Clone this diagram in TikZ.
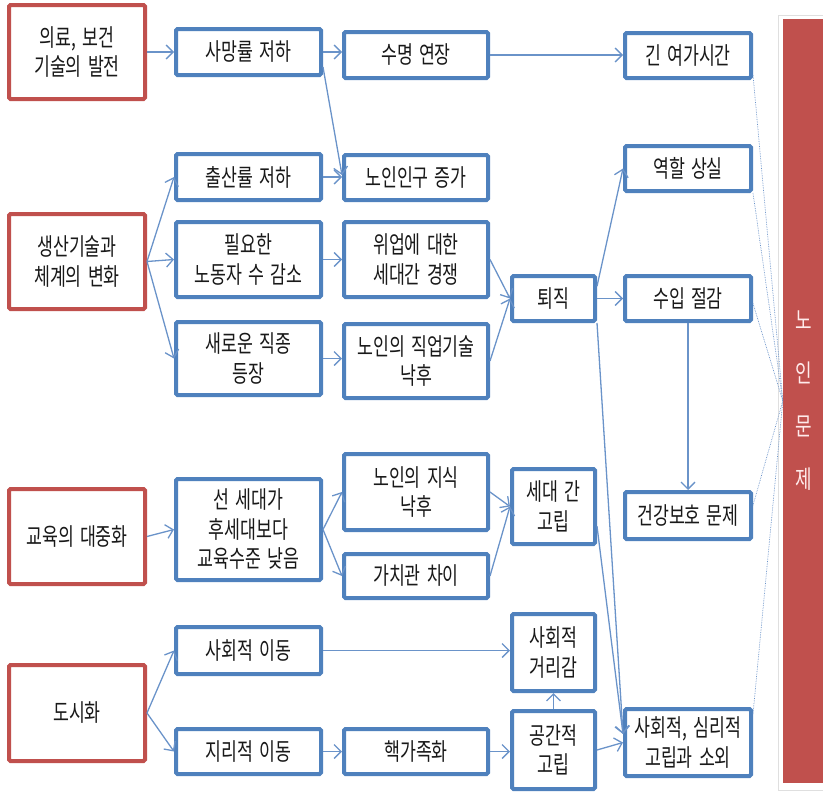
\documentclass[tikz,border=0pt]{standalone}
\usepackage{fontspec}
\newfontfamily\kr[FakeStretch=0.72, WordSpace=1.6]{Noto Sans CJK KR}
\usetikzlibrary{arrows.meta,calc}
\definecolor{boxred}{HTML}{C0504D}
\definecolor{boxblue}{HTML}{4F81BD}
\definecolor{linkblue}{HTML}{6A93C9}
\tikzset{
  base/.style={rectangle, line width=4pt, fill=white, align=center, inner sep=0pt,
    rounded corners=1.5pt, font={\kr\fontsize{24}{29.5}\selectfont}, text=black!90},
  redbox/.style={base, draw=boxred},
  bluebox/.style={base, draw=boxblue},
  link/.style={draw=linkblue, line width=1.3pt, -{Straight Barb[length=7pt,width=14pt]}},
  dotlink/.style={draw=linkblue, line width=0.7pt, densely dotted},
}
\begin{document}
\begin{tikzpicture}[x=1pt,y=-1pt]
\useasboundingbox (0,0) rectangle (823,795);
% red bar
\draw[gray!25, line width=1pt, fill=white] (778,15) rectangle (835,790);
\node[rectangle, fill=boxred, minimum width=42pt, minimum height=764pt, inner sep=0pt,
  text=white!92!red, align=center, font={\kr\fontsize{25}{53}\selectfont}] (bar) at (804,401) {노\\인\\문\\제};
% red boxes
\node[redbox, minimum width=136pt, minimum height=94pt] (med) at (77,52) {의료, 보건\\기술의 발전};
\node[redbox, minimum width=136pt, minimum height=95pt] (prod) at (77,261.5) {생산기술과\\체계의 변화};
\node[redbox, minimum width=136pt, minimum height=95pt] (edu) at (77,536.5) {교육의 대중화};
\node[redbox, minimum width=136pt, minimum height=96pt] (urb) at (77,713) {도시화};
% column 2
\node[bluebox, minimum width=145pt, minimum height=46pt] (death) at (248.5,52) {사망률 저하};
\node[bluebox, minimum width=145pt, minimum height=46pt] (birth) at (248.5,177) {출산률 저하};
\node[bluebox, minimum width=145pt, minimum height=75pt] (need) at (248.5,259.5) {필요한\\노동자 수 감소};
\node[bluebox, minimum width=145pt, minimum height=73pt] (newjob) at (248.5,358.5) {새로운 직종\\등장};
\node[bluebox, minimum width=145pt, minimum height=101pt] (gen) at (248.5,529.5) {선 세대가\\후세대보다\\교육수준 낮음};
\node[bluebox, minimum width=145pt, minimum height=47pt] (socmob) at (248.5,650.5) {사회적 이동};
\node[bluebox, minimum width=145pt, minimum height=45pt] (geomob) at (248.5,751.5) {지리적 이동};
% column 3
\node[bluebox, minimum width=144pt, minimum height=46pt] (life) at (416,55) {수명 연장};
\node[bluebox, minimum width=144pt, minimum height=45pt] (elder) at (416,177.5) {노인인구 증가};
\node[bluebox, minimum width=144pt, minimum height=75pt] (compete) at (416,259.5) {위업에 대한\\세대간 경쟁};
\node[bluebox, minimum width=144pt, minimum height=74pt] (skill) at (416,361) {노인의 직업기술\\낙후};
\node[bluebox, minimum width=144pt, minimum height=76pt] (know) at (416,492) {노인의 지식\\낙후};
\node[bluebox, minimum width=144pt, minimum height=44pt] (value) at (416,576) {가치관 차이};
\node[bluebox, minimum width=144pt, minimum height=45pt] (nuclear) at (416,751.5) {핵가족화};
% column 4
\node[bluebox, minimum width=83pt, minimum height=45pt] (retire) at (553.5,298.5) {퇴직};
\node[bluebox, minimum width=83pt, minimum height=75pt] (genisol) at (553.5,506.5) {세대 간\\고립};
\node[bluebox, minimum width=83pt, minimum height=77pt] (socdist) at (553.5,652.5) {사회적\\거리감};
\node[bluebox, minimum width=83pt, minimum height=78pt] (spatial) at (553.5,750) {공간적\\고립};
% column 5
\node[bluebox, minimum width=126pt, minimum height=45pt] (leisure) at (688,55.5) {긴 여가시간};
\node[bluebox, minimum width=126pt, minimum height=45pt] (role) at (688,168.5) {역할 상실};
\node[bluebox, minimum width=126pt, minimum height=45pt] (income) at (688,298.5) {수입 절감};
\node[bluebox, minimum width=126pt, minimum height=47pt] (health) at (688,515.5) {건강보호 문제};
\node[bluebox, minimum width=126pt, minimum height=67pt] (isol) at (688,742.5) {사회적, 심리적\\고립과 소외};
% connectors
\draw[link] (med.east) -- (med.east -| death.west);
\draw[link] (death.east) -- (death.east -| life.west);
\draw[link] ($(death.east)!0.6!(death.south east)$) -- ($(elder.north west)!0.45!(elder.south west)$);
\draw[link] (life.east) -- (life.east -| leisure.west);
\draw[link] (prod.east) -- (birth.west);
\draw[link] (prod.east) -- (need.west);
\draw[link] (prod.east) -- (newjob.west);
\draw[link] (birth.east) -- (birth.east -| elder.west);
\draw[link] (need.east) -- (need.east -| compete.west);
\draw[link] (newjob.east) -- (newjob.east -| skill.west);
\draw[link] (compete.east) -- (retire.west);
\draw[link] (skill.east) -- (retire.west);
\draw[link] ($(retire.north east)!0.25!(retire.south east)$) -- (role.west);
\draw[link] (retire.east) -- (retire.east -| income.west);
\coordinate (isolin) at ($(isol.north west)!0.38!(isol.south west)$);
\draw[link] (retire.south east) -- (isolin);
\draw[link] ($(genisol.north east)!0.75!(genisol.south east)$) -- (isolin);
\draw[link] (income.south) -- (health.north);
\draw[link] (edu.east) -- (gen.west);
\draw[link] (gen.east) -- (know.west);
\draw[link] (gen.east) -- (value.west);
\draw[link] (know.east) -- (genisol.west);
\draw[link] (value.east) -- (genisol.west);
\draw[link] (urb.east) -- (socmob.west);
\draw[link] (urb.east) -- (geomob.west);
\draw[link] (geomob.east) -- (geomob.east -| nuclear.west);
\draw[link] (socmob.east) -- (socmob.east -| socdist.west);
\draw[link] (nuclear.east) -- (nuclear.east -| spatial.west);
\draw[link] (spatial.north) -- (socdist.south);
\draw[link] (spatial.east) -- ($(isol.north west)!0.5!(isol.south west)$);
% dotted to bar
\draw[dotlink] ($(leisure.north east)!0.9!(leisure.south east)$) -- (bar.west);
\draw[dotlink] (role.south east) -- (bar.west);
\draw[dotlink] ($(income.east)!0.2!(income.south east)$) -- (bar.west);
\draw[dotlink] ($(health.north east)!0.3!(health.south east)$) -- (bar.west);
\draw[dotlink] ($(isol.north east)!0.1!(isol.south east)$) -- (bar.west);
\end{tikzpicture}
\end{document}
